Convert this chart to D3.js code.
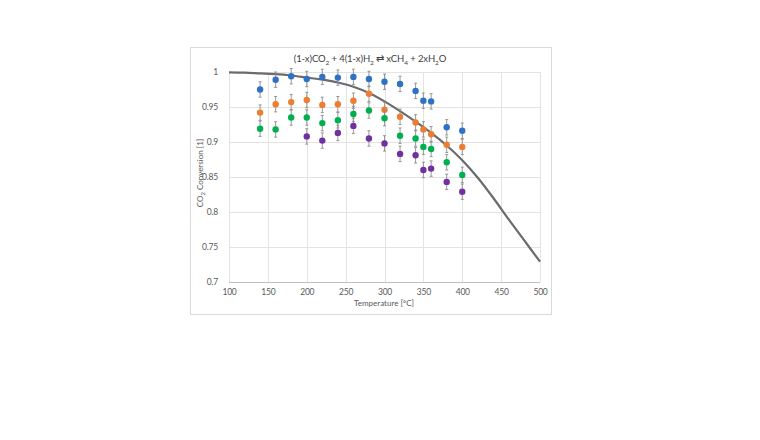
<!DOCTYPE html>
<html><head><meta charset="utf-8">
<script src="https://cdn.jsdelivr.net/npm/d3@7"></script>
<style>body{margin:0;background:#fff;}text{font-family:Lato,"Open Sans","Liberation Sans",sans-serif;}</style>
</head><body>
<svg id="c" width="760" height="440"></svg>
<script>
const temps = [140,160,180,200,220,240,260,280,300,320,340,350,360,380,400];
const blueVals   = [0.975,0.989,0.994,0.990,0.993,0.992,0.993,0.990,0.986,0.983,0.973,0.959,0.958,0.921,0.916];
const orangeVals = [0.942,0.954,0.957,0.960,0.953,0.954,0.959,0.969,0.946,0.936,0.928,0.918,0.911,0.896,0.893];
const greenVals  = [0.919,0.918,0.935,0.935,0.927,0.931,0.940,0.945,0.934,0.909,0.905,0.893,0.890,0.871,0.853];
const purpleTemps = [200,220,240,260,280,300,320,340,350,360,380,400];
const purpleVals = [0.908,0.902,0.913,0.923,0.905,0.898,0.883,0.881,0.860,0.862,0.843,0.829];
const errVal = 0.011;
const eqTemps = [100,120,140,160,180,200,220,240,260,280,300,320,340,360,380,400,420,440,460,480,500];
const eqVals  = [0.9995,0.999,0.998,0.997,0.995,0.992,0.989,0.985,0.979,0.970,0.958,0.944,0.929,0.913,0.895,0.874,0.849,0.820,0.789,0.759,0.729];
const xTicks = [100,150,200,250,300,350,400,450,500];
const yTicks = [0.7,0.75,0.8,0.85,0.9,0.95,1];
const yTickLabels = ["0.7","0.75","0.8","0.85","0.9","0.95","1"];

const series = [
  {t: temps, v: blueVals, color: "#2E72C6"},
  {t: temps, v: orangeVals, color: "#ED7D31"},
  {t: temps, v: greenVals, color: "#00B050"},
  {t: purpleTemps, v: purpleVals, color: "#7030A0"}
];

const svg = d3.select("#c");
const L = 229, R = 540, T = 72, B = 282;
const x = d3.scaleLinear().domain([100,500]).range([L,R]);
const y = d3.scaleLinear().domain([0.7,1]).range([B,T]);

svg.append("rect").attr("x",190.5).attr("y",47.5).attr("width",361).attr("height",267)
  .attr("fill","#fff").attr("stroke","#d9d9d9");

// grid
svg.append("g").selectAll("line").data(yTicks).join("line")
  .attr("x1",L).attr("x2",R).attr("y1",d=>Math.round(y(d))+0.5).attr("y2",d=>Math.round(y(d))+0.5)
  .attr("stroke",d=>d===0.7?"#bfbfbf":"#e3e3e3").attr("stroke-width",1);
svg.append("g").selectAll("line").data(xTicks).join("line")
  .attr("y1",T).attr("y2",B).attr("x1",d=>Math.round(x(d))+0.5).attr("x2",d=>Math.round(x(d))+0.5)
  .attr("stroke","#e3e3e3").attr("stroke-width",1);

// axes labels via d3 axes
const xAxis = d3.axisBottom(x).tickValues(xTicks).tickSize(0).tickPadding(7);
const gx = svg.append("g").attr("transform",`translate(0,${B})`).call(xAxis);
gx.select(".domain").remove();
gx.selectAll("text").attr("fill","#595959").style("font-size","8.5px").style("font-family","Lato").style("letter-spacing","-0.2px");
const yAxis = d3.axisLeft(y).tickValues(yTicks).tickFormat((d,i)=>yTickLabels[i]).tickSize(0).tickPadding(11);
const gy = svg.append("g").attr("transform",`translate(${L},0)`).call(yAxis);
gy.select(".domain").remove();
gy.selectAll("text").attr("fill","#595959").style("font-size","8.5px").style("font-family","Lato").style("letter-spacing","-0.2px");

// equilibrium curve
svg.append("path").datum(eqTemps.map((t,i)=>[t,eqVals[i]]))
  .attr("d", d3.line().x(d=>x(d[0])).y(d=>y(d[1])).curve(d3.curveCatmullRom))
  .attr("fill","none").attr("stroke","#6b6b6b").attr("stroke-width",2.2);

// error bars + dots
series.forEach(s=>{
  const pts = s.t.map((t,i)=>({t, v:s.v[i]}));
  const g = svg.append("g");
  g.selectAll("line.e").data(pts).join("line").attr("class","e")
    .attr("x1",d=>x(d.t)).attr("x2",d=>x(d.t)).attr("y1",d=>y(d.v+errVal)).attr("y2",d=>y(d.v-errVal))
    .attr("stroke","#8c8c8c").attr("stroke-width",0.9);
  [1,-1].forEach(sg=>{
    g.selectAll("line.c"+sg).data(pts).join("line").attr("class","c"+sg)
      .attr("x1",d=>x(d.t)-1.5).attr("x2",d=>x(d.t)+1.5)
      .attr("y1",d=>y(d.v+sg*errVal)).attr("y2",d=>y(d.v+sg*errVal))
      .attr("stroke","#8c8c8c").attr("stroke-width",0.9);
  });
  g.selectAll("circle").data(pts).join("circle")
    .attr("cx",d=>x(d.t)).attr("cy",d=>y(d.v)).attr("r",3.2).attr("fill",s.color);
});

// title
const title = svg.append("text").attr("x",370).attr("y",62).attr("text-anchor","middle")
  .attr("fill","#404040").style("font-size","9.5px").style("letter-spacing","-0.1px");
const parts = [["(1-x)CO",0],["2",1],[" + 4(1-x)H",0],["2",1],[" \u21C4 xCH",0],["4",1],[" + 2xH",0],["2",1],["O",0]];
parts.forEach((p,i)=>{
  const ts = title.append("tspan").text(p[0]);
  if(p[1]){ ts.attr("dy",2.5).style("font-size","6.5px"); }
  else if(i>0 && parts[i-1][1]) { ts.attr("dy",-2.5); }
});

// x axis title
svg.append("text").attr("x",384).attr("y",306).attr("text-anchor","middle")
  .attr("fill","#595959").style("font-size","8px").text("Temperature [°C]");
// y axis title
const yt = svg.append("text").attr("transform",`translate(203,${(T+B)/2 - 4}) rotate(-90)`)
  .attr("text-anchor","middle").attr("fill","#595959").style("font-size","8px");
yt.append("tspan").text("CO");
yt.append("tspan").attr("dy",2).style("font-size","6px").text("2");
yt.append("tspan").attr("dy",-2).text(" Conversion [1]");
</script>
</body></html>
